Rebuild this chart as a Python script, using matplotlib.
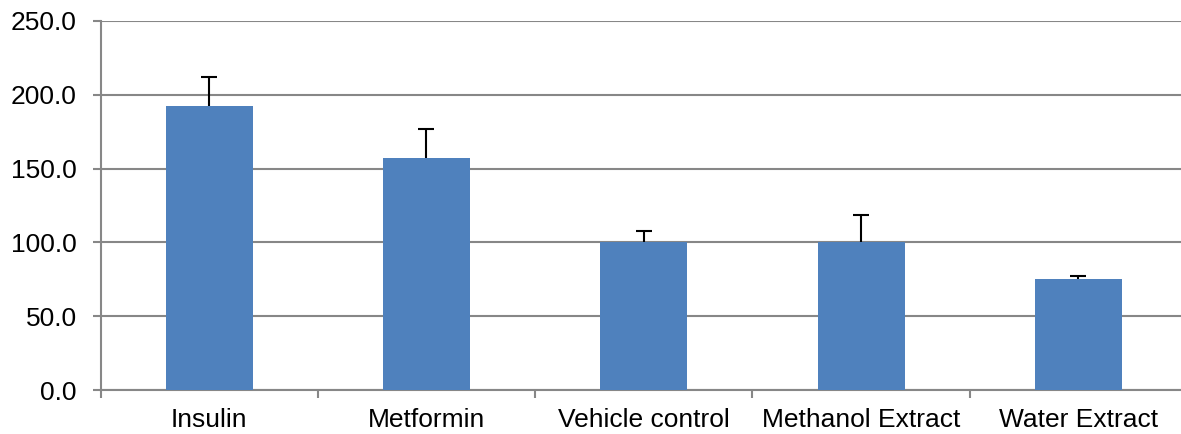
#!/usr/bin/env python3
"""Bar chart with upper error bars, Excel style."""

import matplotlib
matplotlib.use("Agg")
import matplotlib.pyplot as plt
import numpy as np

categories = ["Insulin", "Metformin", "Vehicle control", "Methanol Extract", "Water Extract"]
values = [192.4, 157.2, 100.3, 100.3, 75.2]
errors = [19.7, 19.6, 7.4, 18.3, 2.0]
y_ticks = [0, 50, 100, 150, 200, 250]

BAR_COLOR = "#4F81BD"
GRID_COLOR = "#878787"

plt.rcParams["font.family"] = ["Liberation Sans", "DejaVu Sans"]

fig = plt.figure(figsize=(11.81, 4.34), dpi=100)
ax = fig.add_axes([100.5 / 1181, 1 - 390 / 434, (1187 - 100.5) / 1181, (390 - 21) / 434])

x = np.arange(len(categories))
ax.bar(x, values, width=0.4, color=BAR_COLOR, zorder=3)
# upper error bars only: hide the cap at the bar top
_, caps, _ = ax.errorbar(x, values, yerr=[np.zeros(len(errors)), errors], fmt="none",
                         ecolor="black", elinewidth=1.5, capsize=6, capthick=1.5, zorder=4)
caps[0].set_visible(False)

ax.set_xlim(-0.5, len(categories) - 0.5)
ax.set_ylim(0, 250)
ax.set_yticks(y_ticks)
ax.set_yticklabels([f"{v:.1f}" for v in y_ticks])
ax.yaxis.grid(True, color=GRID_COLOR, linewidth=1.5, zorder=0)
ax.set_axisbelow(True)

ax.set_xticks(x)
ax.set_xticklabels(categories)
ax.set_xticks(np.arange(-0.5, len(categories)), minor=True)
ax.tick_params(axis="x", which="major", length=0, pad=13, labelsize=19)
ax.tick_params(axis="x", which="minor", length=6, width=1.5, color=GRID_COLOR)
ax.tick_params(axis="y", length=6, width=1.5, color=GRID_COLOR, pad=11, labelsize=19)

for side in ("top", "right"):
    ax.spines[side].set_visible(False)
for side in ("left", "bottom"):
    ax.spines[side].set_color(GRID_COLOR)
    ax.spines[side].set_linewidth(1.5)

fig.savefig("out.png", dpi=100)
